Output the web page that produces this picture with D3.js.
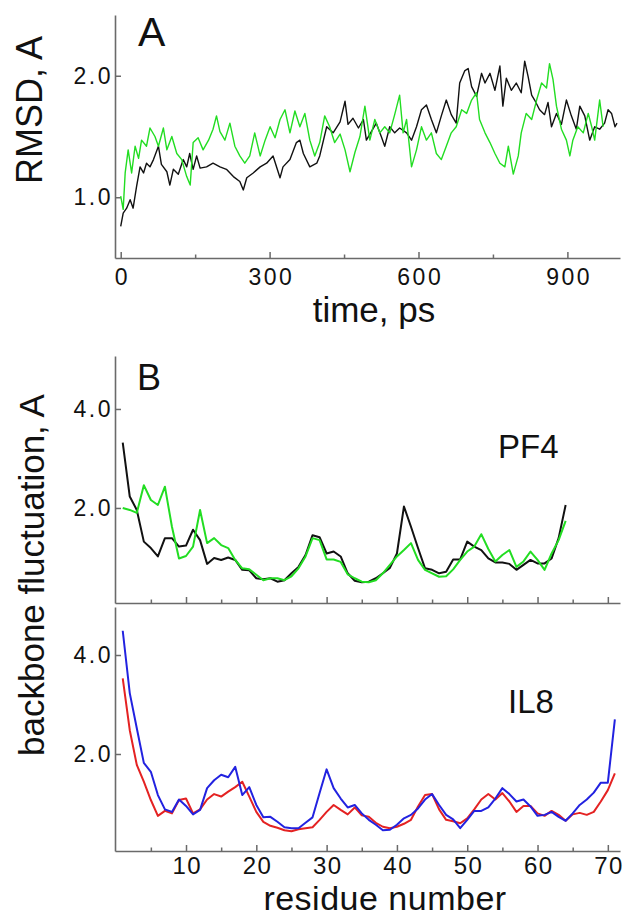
<!DOCTYPE html>
<html>
<head>
<meta charset="utf-8">
<script src="https://cdn.jsdelivr.net/npm/d3@7"></script>
<style>
    body { margin: 0; background: #fff; }
    text { font-family: "Liberation Sans", Arial, sans-serif; fill: #111; }
</style>
</head>
<body>
<div id="chart"></div>
<script>
// panel A: RMSD vs time
const rmsdTimeBlack = [0, 5, 12, 19, 25, 32, 39, 46, 52, 59, 66, 76, 82, 93, 99, 106, 116, 126, 133, 139, 146, 153, 160, 173, 186, 200, 213, 227, 240, 247, 254, 267, 281, 294, 307, 321, 327, 341, 354, 361, 368, 381, 395, 401, 415, 428, 442, 452, 458, 468, 479, 489, 495, 505, 515, 525, 532, 542, 552, 562, 576, 586, 596, 606, 616, 626, 636, 646, 656, 666, 676, 683, 693, 700, 707, 717, 727, 734, 744, 754, 764, 770, 777, 787, 797, 807, 814, 821, 828, 834, 844, 854, 861, 868, 878, 888, 898, 908, 918, 925, 935, 945, 955, 965, 975, 982, 989, 996, 1000]
const rmsdBlack = [0.76, 0.87, 0.91, 0.98, 0.91, 1.09, 1.25, 1.2, 1.28, 1.25, 1.31, 1.42, 1.27, 1.21, 1.1, 1.23, 1.19, 1.31, 1.25, 1.36, 1.23, 1.34, 1.24, 1.25, 1.28, 1.25, 1.23, 1.17, 1.13, 1.06, 1.16, 1.2, 1.25, 1.28, 1.34, 1.16, 1.25, 1.31, 1.45, 1.47, 1.36, 1.25, 1.28, 1.34, 1.58, 1.53, 1.62, 1.79, 1.6, 1.65, 1.57, 1.64, 1.47, 1.54, 1.61, 1.5, 1.42, 1.58, 1.53, 1.57, 1.53, 1.47, 1.58, 1.72, 1.76, 1.64, 1.53, 1.67, 1.8, 1.68, 1.61, 1.94, 2.04, 2.06, 1.91, 1.83, 2.02, 1.94, 2.02, 1.88, 2.08, 1.75, 1.98, 1.88, 1.94, 1.86, 2.12, 1.99, 1.84, 1.8, 1.72, 1.68, 1.78, 1.58, 1.69, 1.6, 1.8, 1.67, 1.56, 1.75, 1.67, 1.47, 1.58, 1.56, 1.61, 1.72, 1.69, 1.58, 1.61]

const rmsdTimeGreen = [0, 5, 9, 15, 22, 29, 36, 42, 52, 59, 69, 76, 86, 93, 103, 113, 123, 133, 140, 146, 156, 166, 177, 186, 193, 200, 210, 220, 230, 240, 250, 260, 270, 281, 291, 301, 311, 321, 331, 341, 351, 361, 371, 381, 391, 401, 411, 421, 431, 442, 452, 462, 472, 482, 492, 502, 512, 522, 532, 542, 552, 562, 569, 576, 586, 596, 606, 616, 626, 636, 646, 656, 666, 676, 687, 697, 707, 717, 723, 734, 744, 754, 764, 774, 781, 791, 801, 807, 817, 828, 838, 848, 858, 864, 871, 878, 888, 898, 905, 911, 921, 932, 942, 949, 955, 965, 972]
const rmsdGreen = [1.01, 0.9, 1.2, 1.39, 1.2, 1.42, 1.32, 1.47, 1.42, 1.57, 1.5, 1.42, 1.57, 1.39, 1.5, 1.36, 1.31, 1.17, 1.1, 1.45, 1.49, 1.39, 1.47, 1.56, 1.67, 1.54, 1.47, 1.61, 1.42, 1.34, 1.28, 1.34, 1.53, 1.34, 1.47, 1.58, 1.49, 1.64, 1.72, 1.53, 1.71, 1.58, 1.69, 1.47, 1.34, 1.45, 1.67, 1.58, 1.45, 1.52, 1.39, 1.21, 1.37, 1.5, 1.75, 1.47, 1.64, 1.53, 1.58, 1.53, 1.68, 1.84, 1.53, 1.64, 1.25, 1.39, 1.58, 1.47, 1.53, 1.36, 1.31, 1.42, 1.53, 1.58, 1.72, 1.69, 1.8, 1.86, 1.64, 1.53, 1.45, 1.36, 1.28, 1.25, 1.42, 1.19, 1.34, 1.53, 1.69, 1.64, 1.8, 1.94, 1.9, 2.1, 1.97, 1.75, 1.56, 1.47, 1.34, 1.47, 1.58, 1.53, 1.69, 1.58, 1.47, 1.8, 1.58]

// panel B: backbone fluctuation per residue
const pf4Black = [3.32, 2.23, 1.96, 1.32, 1.19, 1.02, 1.39, 1.39, 1.22, 1.24, 1.56, 1.35, 0.87, 0.99, 0.95, 1.0, 0.95, 0.75, 0.74, 0.58, 0.56, 0.58, 0.51, 0.54, 0.68, 0.81, 1.05, 1.45, 1.41, 1.08, 1.12, 1.02, 0.68, 0.53, 0.5, 0.51, 0.58, 0.68, 0.79, 1.08, 2.03, 1.62, 1.19, 0.78, 0.75, 0.68, 0.71, 0.96, 0.96, 1.32, 1.22, 1.15, 0.98, 0.9, 0.9, 0.87, 0.75, 0.85, 0.95, 0.88, 0.88, 0.98, 1.39, 2.06]
const pf4Green = [2.0, 1.96, 1.9, 2.46, 2.16, 2.06, 2.43, 1.62, 0.98, 1.03, 1.22, 1.96, 1.29, 1.39, 1.25, 1.19, 0.95, 0.78, 0.76, 0.65, 0.54, 0.58, 0.58, 0.54, 0.62, 0.78, 1.02, 1.39, 1.35, 0.96, 0.96, 0.91, 0.66, 0.58, 0.51, 0.5, 0.54, 0.68, 0.85, 1.02, 1.15, 1.29, 0.95, 0.75, 0.68, 0.61, 0.62, 0.76, 0.95, 1.12, 1.22, 1.47, 1.17, 0.92, 1.05, 1.15, 0.81, 0.92, 1.12, 0.95, 0.75, 1.08, 1.35, 1.74]
const il8Red = [3.53, 2.48, 1.78, 1.44, 1.07, 0.75, 0.85, 0.8, 1.07, 1.1, 0.8, 0.88, 1.08, 1.19, 1.14, 1.24, 1.33, 1.44, 1.14, 0.83, 0.63, 0.55, 0.51, 0.46, 0.44, 0.48, 0.5, 0.52, 0.67, 0.83, 0.97, 0.87, 0.78, 0.92, 0.76, 0.73, 0.61, 0.53, 0.5, 0.53, 0.59, 0.67, 0.94, 1.17, 1.19, 0.88, 0.67, 0.64, 0.6, 0.7, 0.88, 1.08, 1.19, 1.08, 1.21, 1.04, 0.83, 0.95, 0.95, 0.8, 0.75, 0.85, 0.77, 0.65, 0.78, 0.81, 0.77, 0.83, 1.04, 1.27, 1.61]
const il8Blue = [4.49, 3.23, 2.52, 1.82, 1.64, 1.17, 0.88, 0.83, 1.08, 0.95, 0.78, 0.87, 1.31, 1.47, 1.58, 1.53, 1.74, 1.17, 1.33, 0.97, 0.72, 0.73, 0.63, 0.52, 0.5, 0.5, 0.61, 0.72, 1.21, 1.69, 1.31, 1.1, 0.92, 0.97, 0.8, 0.67, 0.57, 0.46, 0.47, 0.57, 0.7, 0.77, 0.9, 1.08, 1.19, 0.97, 0.77, 0.68, 0.5, 0.67, 0.85, 0.85, 0.92, 1.1, 1.31, 1.19, 1.04, 1.08, 0.94, 0.75, 0.77, 0.83, 0.73, 0.65, 0.8, 0.97, 1.08, 1.22, 1.42, 1.42, 2.7]

const timeTicks = [0, 300, 600, 900]
const timeMinorTicks = [150, 450, 750]
const rmsdTicks = [1.0, 2.0]
const residueTicks = [10, 20, 30, 40, 50, 60, 70]
const residueMinorTicks = [5, 15, 25, 35, 45, 55, 65]
const flucTicks = [2.0, 4.0]

var width = 623,
    height = 921;

var axisColor = "#6a6a6a"

var svg = d3.select('#chart')
    .append('svg')
    .attr("width", width)
    .attr("height", height)

svg.append("rect").attr("width", width).attr("height", height).attr("fill", "#fff")

function styleAxis(g) {
    g.selectAll("path, line").attr("stroke", axisColor).attr("stroke-width", 1.5)
    g.select(".domain").attr("stroke-width", 1.6)
    g.selectAll("text").attr("fill", "#111").attr("font-family", '"Liberation Sans", Arial, sans-serif')
}

function leftAxis(y, x0, ticks) {
    let g = svg.append("g")
        .attr("transform", "translate(" + x0 + ",0)")
        .call(d3.axisLeft(y).tickValues(ticks).tickFormat(d3.format(".1f"))
            .tickSizeInner(-6).tickSizeOuter(0).tickPadding(2))
    g.call(styleAxis)
    g.selectAll("text").attr("font-size", 23).attr("letter-spacing", 2.5)
    return g
}

function bottomAxis(x, y0, major, minor, fontSize, spacing, padding, showLabels) {
    let g = svg.append("g")
        .attr("transform", "translate(0," + y0 + ")")
        .call(d3.axisBottom(x).tickValues(major)
            .tickFormat(showLabels ? d3.format("d") : "")
            .tickSizeInner(-6).tickSizeOuter(0).tickPadding(padding))
    g.call(styleAxis)
    g.selectAll("text").attr("font-size", fontSize).attr("letter-spacing", spacing)
        .attr("dx", spacing / 2)
    let m = svg.append("g")
        .attr("transform", "translate(0," + y0 + ")")
        .call(d3.axisBottom(x).tickValues(minor).tickFormat("")
            .tickSizeInner(-3.5).tickSizeOuter(0))
    m.call(styleAxis)
    m.select(".domain").remove()
    return g
}

// ---------- panel A ----------
var xA = d3.scaleLinear().domain([-11.5, 1006]).range([115, 620])
var yA = d3.scaleLinear().domain([0.5, 2.5]).range([258, 15])

leftAxis(yA, 115, rmsdTicks)
bottomAxis(xA, 258, timeTicks, timeMinorTicks, 23, 2.5, 11, true)

var lineA = d3.line()
    .x(function (d) { return xA(d[0]) })
    .y(function (d) { return yA(d[1]) })

svg.append("path")
    .datum(d3.zip(rmsdTimeBlack, rmsdBlack))
    .attr("d", lineA)
    .attr("fill", "none")
    .attr("stroke", "#111")
    .attr("stroke-width", 1.4)
    .attr("stroke-linejoin", "round")

svg.append("path")
    .datum(d3.zip(rmsdTimeGreen, rmsdGreen))
    .attr("d", lineA)
    .attr("fill", "none")
    .attr("stroke", "#22dd22")
    .attr("stroke-width", 1.4)
    .attr("stroke-linejoin", "round")

svg.append("text").text("A")
    .attr("x", 138).attr("y", 46)
    .attr("font-size", 41)

svg.append("text").text("time, ps")
    .attr("x", 374).attr("y", 322)
    .attr("font-size", 35)
    .style("text-anchor", "middle")

svg.append("text").text("RMSD, A")
    .attr("transform", "translate(42,110) rotate(-90)")
    .attr("font-size", 36)
    .style("text-anchor", "middle")

// ---------- panel B ----------
var xB = d3.scaleLinear().domain([-0.1, 71.73]).range([115, 620])
var yPF4 = d3.scaleLinear().domain([0.08, 5.07]).range([603, 356])
var yIL8 = d3.scaleLinear().domain([0.04, 4.97]).range([851, 607])

leftAxis(yPF4, 115, flucTicks)
bottomAxis(xB, 603, residueTicks, residueMinorTicks, 24, 1.5, 6, false)
leftAxis(yIL8, 115, flucTicks)
bottomAxis(xB, 851, residueTicks, residueMinorTicks, 24, 1.5, 6, true)

function residueLine(values, y, color) {
    let line = d3.line()
        .x(function (d, i) { return xB(i + 1) })
        .y(function (d) { return y(d) })
    svg.append("path")
        .datum(values)
        .attr("d", line)
        .attr("fill", "none")
        .attr("stroke", color)
        .attr("stroke-width", 2)
        .attr("stroke-linejoin", "round")
}

residueLine(pf4Black, yPF4, "#111")
residueLine(pf4Green, yPF4, "#22dd22")
residueLine(il8Red, yIL8, "#e42222")
residueLine(il8Blue, yIL8, "#2222e0")

svg.append("text").text("B")
    .attr("x", 137).attr("y", 390)
    .attr("font-size", 36)

svg.append("text").text("PF4")
    .attr("x", 498).attr("y", 458)
    .attr("font-size", 33)

svg.append("text").text("IL8")
    .attr("x", 508).attr("y", 713)
    .attr("font-size", 33)

svg.append("text").text("backbone fluctuation, A")
    .attr("transform", "translate(44,575) rotate(-90)")
    .attr("font-size", 35)
    .style("text-anchor", "middle")

svg.append("text").text("residue number")
    .attr("x", 385).attr("y", 910)
    .attr("font-size", 34)
    .attr("letter-spacing", 0.5)
    .style("text-anchor", "middle")
</script>
</body>
</html>
